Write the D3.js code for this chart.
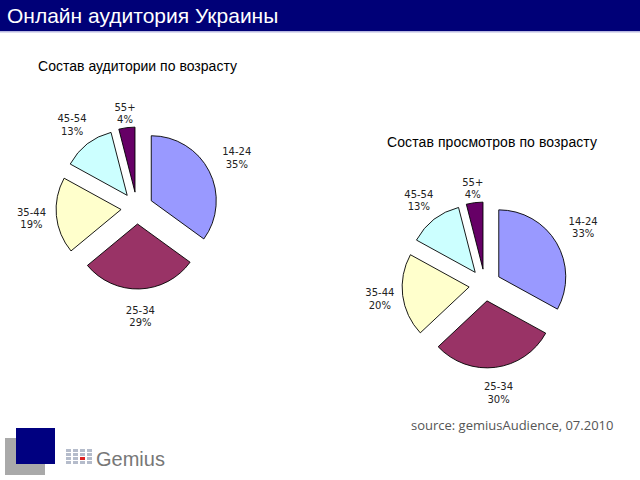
<!DOCTYPE html>
<html>
<head>
<meta charset="utf-8">
<script src="https://cdn.jsdelivr.net/npm/d3@7"></script>
<style>
  body { margin: 0; background: #fff; }
  svg { display: block; }
</style>
</head>
<body>
<script>
// Données
const ageGroups = ["14-24", "25-34", "35-44", "45-54", "55+"];
const audienceShare = [35, 29, 19, 13, 4];
const viewsShare = [33, 30, 20, 13, 4];
const sliceColors = ["#9999ff", "#993366", "#ffffcc", "#ccffff", "#660066"];

const width = 640;
const height = 480;

const svg = d3.select("body").append("svg")
  .attr("width", width)
  .attr("height", height);

// Bandeau du titre
svg.append("rect")
  .attr("x", 0).attr("y", 0)
  .attr("width", width).attr("height", 31)
  .attr("fill", "#000077");
svg.append("rect")
  .attr("x", 0).attr("y", 31)
  .attr("width", width).attr("height", 1.5)
  .attr("fill", "#b8b8e0");
svg.append("text")
  .attr("x", 7).attr("y", 23)
  .attr("fill", "#fff")
  .style("font", "21px 'Liberation Sans', Arial, sans-serif")
  .text("Онлайн аудитория Украины");

const color = d3.scaleOrdinal().domain(ageGroups).range(sliceColors);

// Un camembert éclaté
function drawPie(values, title, opts) {
  const data = ageGroups.map((g, i) => ({ group: g, value: values[i] }));
  const arcs = d3.pie().sort(null).value(d => d.value)(data);
  const arc = d3.arc().innerRadius(0).outerRadius(opts.r);

  svg.append("text")
    .attr("x", opts.titleX).attr("y", opts.titleY)
    .attr("textLength", opts.titleLen)
    .attr("fill", "#000")
    .style("font", "14px 'Liberation Sans', Arial, sans-serif")
    .text(title);

  const g = svg.append("g")
    .attr("transform", `translate(${opts.cx}, ${opts.cy})`);

  g.selectAll("path")
    .data(arcs)
    .join("path")
    .attr("transform", d => {
      const a = (d.startAngle + d.endAngle) / 2;
      return `translate(${Math.sin(a) * opts.explode}, ${-Math.cos(a) * opts.explode})`;
    })
    .attr("d", arc)
    .attr("fill", d => color(d.data.group))
    .attr("stroke", "#000")
    .attr("stroke-width", 0.9);

  const labels = g.selectAll("text.lbl")
    .data(arcs)
    .join("text")
    .attr("class", "lbl")
    .attr("text-anchor", "middle")
    .attr("fill", "#222")
    .style("font", "10px 'DejaVu Sans', Verdana, sans-serif")
    .attr("transform", (d, i) => {
      const a = (d.startAngle + d.endAngle) / 2;
      const rr = opts.labelR[i];
      return `translate(${Math.sin(a) * rr}, ${-Math.cos(a) * rr})`;
    });
  labels.append("tspan").attr("x", 0).attr("dy", "-0.2em").text(d => d.data.group);
  labels.append("tspan").attr("x", 0).attr("dy", "1.25em").text(d => d.data.value + "%");
}

drawPie(audienceShare, "Состав аудитории по возрасту", {
  cx: 137, cy: 208, r: 65, explode: 16,
  labelR: [112, 108, 106, 106, 96],
  titleX: 38, titleY: 71, titleLen: 199
});

drawPie(viewsShare, "Состав просмотров по возрасту", {
  cx: 485, cy: 285, r: 67, explode: 16,
  labelR: [114, 108, 106, 108, 98],
  titleX: 387, titleY: 147, titleLen: 210
});

// Source
svg.append("text")
  .attr("x", 411).attr("y", 430)
  .attr("fill", "#555")
  .style("font", "13px 'Open Sans', sans-serif")
  .text("source: gemiusAudience, 07.2010");

// Logo
svg.append("rect").attr("x", 5).attr("y", 438).attr("width", 40).attr("height", 37).attr("fill", "#a9a9a9");
svg.append("rect").attr("x", 16).attr("y", 428).attr("width", 39).attr("height", 36).attr("fill", "#000080");
const dots = svg.append("g").attr("transform", "translate(66, 449)");
d3.range(4).forEach(c => {
  d3.range(4).forEach(r => {
    dots.append("rect")
      .attr("x", c * 7).attr("y", r * 4)
      .attr("width", 5).attr("height", 3)
      .attr("fill", (c === 2 && r === 2) ? "#d22" : "#b5bccb");
  });
});
svg.append("text")
  .attr("x", 96).attr("y", 466)
  .attr("fill", "#777")
  .style("font", "20px 'Liberation Sans', Arial, sans-serif")
  .text("Gemius");
</script>
</body>
</html>
